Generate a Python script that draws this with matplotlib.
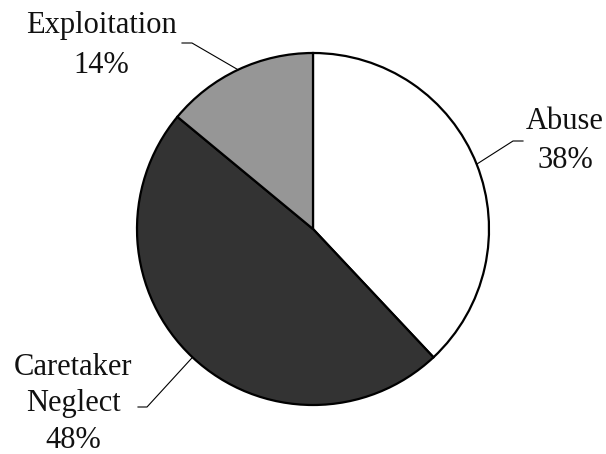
import numpy as np
import matplotlib
matplotlib.use("Agg")
import matplotlib.pyplot as plt

categories = ["Abuse", "Caretaker\nNeglect", "Exploitation"]
values = [38, 48, 14]
colors = ["#ffffff", "#333333", "#969696"]

W, H = 606, 454
fig = plt.figure(figsize=(W / 100, H / 100), dpi=100)
ax = fig.add_axes([0, 0, 1, 1])

cx, cy, r = 313, H - 229, 176
wedges, _ = ax.pie(values, colors=colors, startangle=90, counterclock=False,
                   center=(cx, cy), radius=r, frame=True,
                   wedgeprops=dict(edgecolor="black", linewidth=1.6))
ax.set_xlim(0, W)
ax.set_ylim(0, H)
ax.set_aspect("equal")
ax.axis("off")

font = dict(family="Liberation Serif", size=22, color="#111111")

# label layout: (text center x, first baseline y, line spacing, elbow point, end point)
layout = {
    0: dict(tx=565, ty=129, ls=39, elbow=(513, 141), end=(523, 141)),
    1: dict(tx=73, ty=375, ls=36.5, elbow=(147, 407), end=(138, 407)),
    2: dict(tx=101, ty=33, ls=40, elbow=(192, 43), end=(182, 43)),
}

for i, w in enumerate(wedges):
    mid = np.deg2rad((w.theta1 + w.theta2) / 2)
    px, py = cx + r * np.cos(mid), cy + r * np.sin(mid)
    L = layout[i]
    ex, ey = L["elbow"]
    nx, ny = L["end"]
    ax.plot([px, ex, nx], [py, H - ey, H - ny], color="black", lw=0.8)
    lines = categories[i].split("\n") + [f"{values[i]}%"]
    for k, t in enumerate(lines):
        ax.text(L["tx"], H - (L["ty"] + k * L["ls"]), t, ha="center",
                va="baseline", **font)

fig.savefig("out.png", dpi=100)
